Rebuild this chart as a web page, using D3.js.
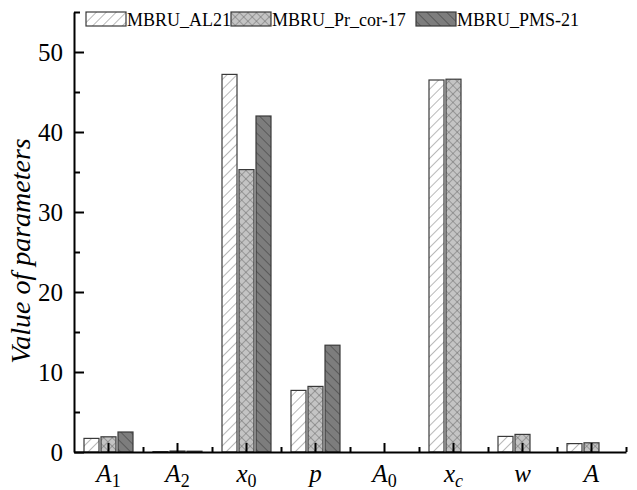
<!DOCTYPE html>
<html>
<head>
<meta charset="utf-8">
<script src="https://cdn.jsdelivr.net/npm/d3@7"></script>
<style>
  body { margin: 0; background: #fff; }
  svg { display: block; }
  text { font-family: "Liberation Serif", "Times New Roman", serif; fill: #000; }
</style>
</head>
<body>
<div id="draw"></div>
<script>
// parameter names on the x axis: [letter, subscript]
var categories = ['A1', 'A2', 'x0', 'p', 'A0', 'xc', 'w', 'A'];
var catLabels = [['A', '1'], ['A', '2'], ['x', '0'], ['p', ''], ['A', '0'], ['x', 'c'], ['w', ''], ['A', '']];
var seriesNames = ['MBRU_AL21', 'MBRU_Pr_cor-17', 'MBRU_PMS-21'];

// values, one entry per category
var al21 = [1.7, 0.05, 47.2, 7.7, 0, 46.5, 1.95, 1.05];
var prCor17 = [1.9, 0.12, 35.3, 8.2, 0, 46.6, 2.2, 1.15];
var pms21 = [2.5, 0.1, 42.0, 13.35, 0, 0, 0, 0];

var yMajor = [0, 10, 20, 30, 40, 50];
var yMinor = [5, 15, 25, 35, 45, 55];

(function () {
    "use strict";

    var width = 637,
        height = 490,
        left = 74,
        right = 626,
        top = 12,
        bottom = 452;

    var seriesValues = [al21, prCor17, pms21];

    var svg = d3.select('#draw').append('svg')
        .attr('width', width)
        .attr('height', height);

    // hatch patterns for the three series
    var defs = svg.append('defs');

    var p1 = defs.append('pattern')
        .attr('id', 'hatch0')
        .attr('patternUnits', 'userSpaceOnUse')
        .attr('width', 7).attr('height', 7)
        .attr('patternTransform', 'rotate(45)');
    p1.append('rect').attr('width', 7).attr('height', 7).attr('fill', '#fff');
    p1.append('line').attr('x1', 0).attr('y1', 0).attr('x2', 0).attr('y2', 7)
        .attr('stroke', '#8a8a8a').attr('stroke-width', 1.2);

    var p2 = defs.append('pattern')
        .attr('id', 'hatch1')
        .attr('patternUnits', 'userSpaceOnUse')
        .attr('width', 6).attr('height', 6)
        .attr('patternTransform', 'rotate(45)');
    p2.append('rect').attr('width', 6).attr('height', 6).attr('fill', '#c4c4c4');
    p2.append('line').attr('x1', 0).attr('y1', 0).attr('x2', 0).attr('y2', 6)
        .attr('stroke', '#6a6a6a').attr('stroke-width', 1);
    p2.append('line').attr('x1', 0).attr('y1', 0).attr('x2', 6).attr('y2', 0)
        .attr('stroke', '#6a6a6a').attr('stroke-width', 1);

    var p3 = defs.append('pattern')
        .attr('id', 'hatch2')
        .attr('patternUnits', 'userSpaceOnUse')
        .attr('width', 7).attr('height', 7)
        .attr('patternTransform', 'rotate(-45)');
    p3.append('rect').attr('width', 7).attr('height', 7).attr('fill', '#7d7d7d');
    p3.append('line').attr('x1', 0).attr('y1', 0).attr('x2', 0).attr('y2', 7)
        .attr('stroke', '#404040').attr('stroke-width', 1.2);

    var x = d3.scaleBand()
        .domain(categories)
        .range([left, right])
        .padding(0);

    var bw = x.bandwidth();

    var xSub = d3.scaleBand()
        .domain(seriesNames)
        .range([(bw - 51) / 2, (bw + 51) / 2])
        .paddingInner(2 / 17)
        .paddingOuter(1 / 17);

    var y = d3.scaleLinear()
        .domain([0, 55])
        .range([bottom, top]);

    // bars
    var groups = svg.append('g').selectAll('g')
        .data(categories)
        .enter().append('g')
        .attr('transform', function (d) { return 'translate(' + x(d) + ',0)'; });

    groups.selectAll('rect')
        .data(function (d, i) {
            return seriesNames.map(function (s, k) {
                return { s: s, k: k, v: seriesValues[k][i] };
            });
        })
        .enter().filter(function (d) { return d.v > 0; })
        .append('rect')
        .attr('x', function (d) { return xSub(d.s); })
        .attr('width', xSub.bandwidth())
        .attr('y', function (d) { return y(d.v); })
        .attr('height', function (d) { return y(0) - y(d.v); })
        .attr('fill', function (d) { return 'url(#hatch' + d.k + ')'; })
        .attr('stroke', '#3a3a3a')
        .attr('stroke-width', 1.2);

    // y axis
    var yAxis = svg.append('g')
        .attr('transform', 'translate(' + left + ',0)')
        .call(d3.axisLeft(y).tickValues(yMajor).tickSize(-10).tickSizeOuter(0).tickPadding(11));
    svg.append('g')
        .attr('transform', 'translate(' + left + ',0)')
        .call(d3.axisLeft(y).tickValues(yMinor).tickSize(-6).tickSizeOuter(0).tickFormat(''))
        .select('.domain').remove();
    yAxis.selectAll('text')
        .style('font-size', '25px')
        .style('font-family', '"Liberation Serif", serif')
        .attr('dy', '0.35em');

    // x axis: major ticks at the category centres, minor ticks at the boundaries
    svg.append('g')
        .attr('transform', 'translate(0,' + bottom + ')')
        .call(d3.axisBottom(x).tickSize(-9).tickSizeOuter(0).tickFormat(''));
    svg.append('g')
        .attr('transform', 'translate(0,' + bottom + ')')
        .call(d3.axisBottom(d3.scaleLinear().domain([0, categories.length]).range([left, right]))
            .tickValues(d3.range(1, categories.length + 1)).tickSize(-5).tickSizeOuter(0).tickFormat(''))
        .select('.domain').remove();

    svg.selectAll('.domain, .tick line')
        .attr('stroke', '#000')
        .attr('stroke-width', 2);

    var xl = svg.append('g').selectAll('text')
        .data(categories)
        .enter().append('text')
        .attr('x', function (d) { return x(d) + bw / 2; })
        .attr('y', 482)
        .attr('text-anchor', 'middle')
        .style('font-size', '25px');
    xl.append('tspan')
        .style('font-style', 'italic')
        .text(function (d, i) { return catLabels[i][0]; });
    xl.append('tspan')
        .attr('dy', 5)
        .style('font-size', '18px')
        .style('font-style', function (d, i) { return /[a-z]/.test(catLabels[i][1]) ? 'italic' : 'normal'; })
        .text(function (d, i) { return catLabels[i][1]; });

    // y title
    svg.append('text')
        .attr('transform', 'translate(30,251) rotate(-90)')
        .attr('text-anchor', 'middle')
        .style('font-size', '28px')
        .style('font-style', 'italic')
        .text('Value of parameters');

    // legend
    var legX = [86, 231, 416];
    var leg = svg.append('g').selectAll('g')
        .data(seriesNames)
        .enter().append('g')
        .attr('transform', function (d, i) { return 'translate(' + legX[i] + ',12)'; });
    leg.append('rect')
        .attr('width', 40)
        .attr('height', 14)
        .attr('fill', function (d, i) { return 'url(#hatch' + i + ')'; })
        .attr('stroke', '#3a3a3a')
        .attr('stroke-width', 1.2);
    leg.append('text')
        .attr('x', 41)
        .attr('y', 14)
        .style('font-size', '18px')
        .text(function (d) { return d; });
}());
</script>
</body>
</html>
